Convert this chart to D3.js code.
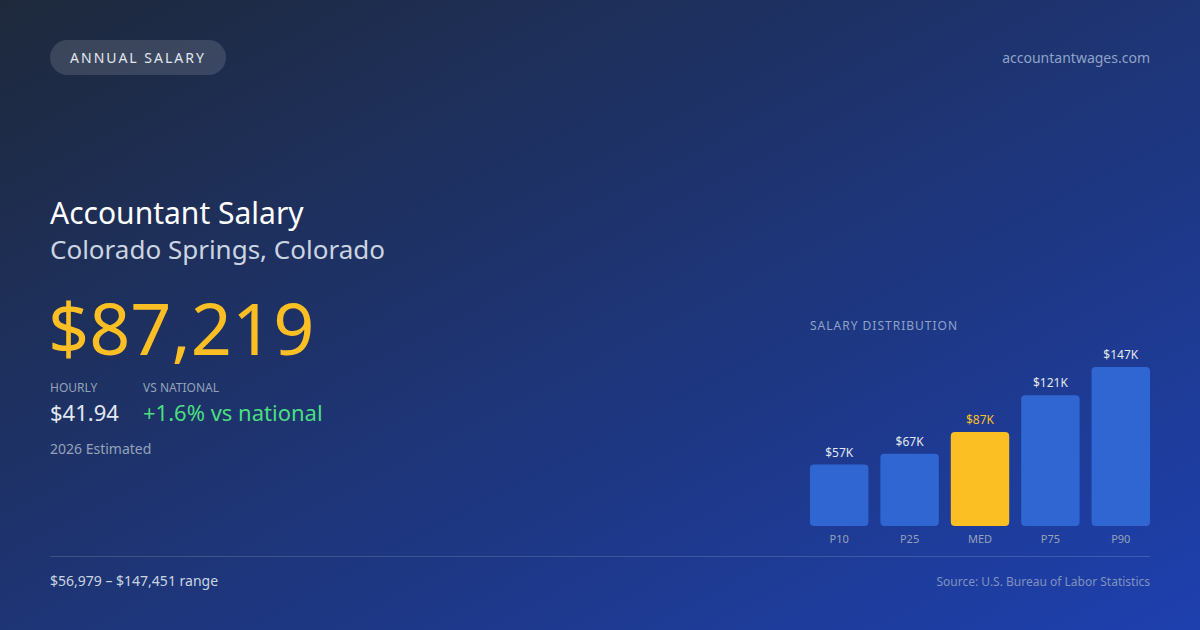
<!DOCTYPE html>
<html>
<head>
<meta charset="utf-8">
<script src="https://cdn.jsdelivr.net/npm/d3@7"></script>
<style>
  html, body { margin: 0; padding: 0; background: #1e293b; }
  svg { display: block; font-family: "Noto Sans", "Open Sans", sans-serif; }
</style>
</head>
<body>
<div id="card"></div>
<script>
// Salary distribution data
const percentiles = ['P10', 'P25', 'MED', 'P75', 'P90'];
const salaries = [56979, 67100, 87219, 121200, 147451];
const barLabels = ['$57K', '$67K', '$87K', '$121K', '$147K'];

const W = 1200, H = 630;

const svg = d3.select('#card').append('svg')
  .attr('width', W).attr('height', H);

// Background gradient
const defs = svg.append('defs');
const bg = defs.append('linearGradient')
  .attr('id', 'bg').attr('x1', '0%').attr('y1', '0%').attr('x2', '100%').attr('y2', '100%');
bg.append('stop').attr('offset', '0%').attr('stop-color', '#1e293b');
bg.append('stop').attr('offset', '100%').attr('stop-color', '#1e40af');

svg.append('rect').attr('width', W).attr('height', H).attr('fill', 'url(#bg)');

// Pill badge
svg.append('rect')
  .attr('x', 50).attr('y', 40).attr('width', 176).attr('height', 35).attr('rx', 17.5)
  .attr('fill', 'rgba(255,255,255,0.13)');
svg.append('text')
  .attr('x', 138).attr('y', 63).attr('text-anchor', 'middle')
  .attr('font-size', 14).attr('letter-spacing', 2).attr('fill', '#e2e8f0')
  .text('ANNUAL SALARY');

svg.append('text')
  .attr('x', 1150).attr('y', 63).attr('text-anchor', 'end')
  .attr('font-size', 14).attr('fill', '#8ea3c8')
  .text('accountantwages.com');

// Headline block
svg.append('text')
  .attr('x', 50).attr('y', 224).attr('font-size', 30).attr('fill', '#ffffff')
  .text('Accountant Salary');
svg.append('text')
  .attr('x', 50).attr('y', 259).attr('font-size', 26).attr('fill', '#cbd5e1')
  .text('Colorado Springs, Colorado');
svg.append('text')
  .attr('x', 48).attr('y', 355).attr('font-size', 72).attr('fill', '#fbbf24')
  .text('$87,219');

svg.append('text')
  .attr('x', 50).attr('y', 392).attr('font-size', 12).attr('fill', '#94a3b8')
  .text('HOURLY');
svg.append('text')
  .attr('x', 143).attr('y', 392).attr('font-size', 12).attr('fill', '#94a3b8')
  .text('VS NATIONAL');
svg.append('text')
  .attr('x', 50).attr('y', 421).attr('font-size', 22).attr('fill', '#e2e8f0')
  .text('$41.94');
svg.append('text')
  .attr('x', 143).attr('y', 421).attr('font-size', 22).attr('fill', '#4ade80')
  .text('+1.6% vs national');
svg.append('text')
  .attr('x', 50).attr('y', 454).attr('font-size', 14).attr('fill', '#94a3b8')
  .text('2026 Estimated');

// Salary distribution chart
svg.append('text')
  .attr('x', 810).attr('y', 330).attr('font-size', 12).attr('letter-spacing', 1)
  .attr('fill', '#8ea3c8')
  .text('SALARY DISTRIBUTION');

const x = d3.scaleBand()
  .domain(percentiles)
  .range([810, 1150])
  .paddingInner(0.17)
  .paddingOuter(0);

const y = d3.scaleLinear()
  .domain([0, d3.max(salaries)])
  .range([526, 367]);

const rows = percentiles.map((p, i) => ({ p, v: salaries[i], label: barLabels[i] }));

const g = svg.append('g');

g.selectAll('rect.bar')
  .data(rows)
  .join('rect')
  .attr('class', 'bar')
  .attr('x', d => x(d.p))
  .attr('y', d => y(d.v))
  .attr('width', x.bandwidth())
  .attr('height', d => y(0) - y(d.v))
  .attr('rx', 4)
  .attr('fill', d => d.p === 'MED' ? '#fbbf24' : '#3066d1');

g.selectAll('text.val')
  .data(rows)
  .join('text')
  .attr('class', 'val')
  .attr('x', d => x(d.p) + x.bandwidth() / 2)
  .attr('y', d => y(d.v) - 8)
  .attr('text-anchor', 'middle')
  .attr('font-size', 12)
  .attr('fill', d => d.p === 'MED' ? '#fbbf24' : '#e2e8f0')
  .text(d => d.label);

g.selectAll('text.cat')
  .data(rows)
  .join('text')
  .attr('class', 'cat')
  .attr('x', d => x(d.p) + x.bandwidth() / 2)
  .attr('y', 543)
  .attr('text-anchor', 'middle')
  .attr('font-size', 11)
  .attr('fill', '#94a3b8')
  .text(d => d.p);

// Footer
svg.append('line')
  .attr('x1', 50).attr('x2', 1150).attr('y1', 556.5).attr('y2', 556.5)
  .attr('stroke', 'rgba(255,255,255,0.15)');
svg.append('text')
  .attr('x', 50).attr('y', 586).attr('font-size', 14).attr('fill', '#cbd5e1')
  .text('$56,979 – $147,451 range');
svg.append('text')
  .attr('x', 1150).attr('y', 586).attr('text-anchor', 'end')
  .attr('font-size', 12).attr('fill', '#7f93bd')
  .text('Source: U.S. Bureau of Labor Statistics');
</script>
</body>
</html>
